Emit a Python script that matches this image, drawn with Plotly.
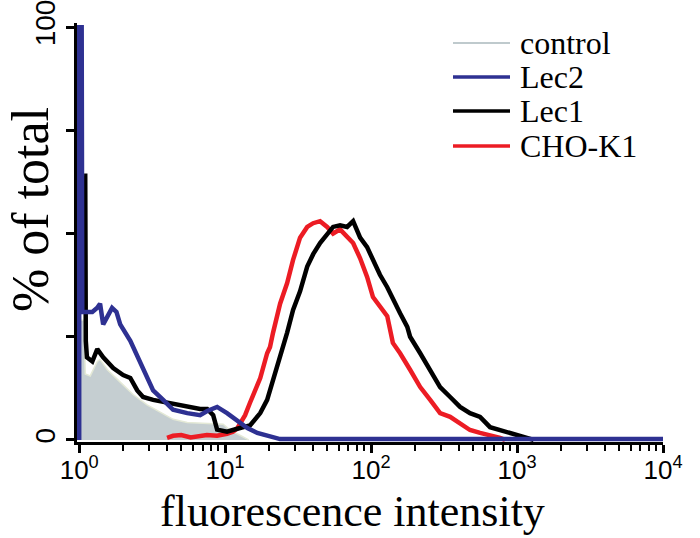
import plotly.graph_objects as go

# ---------------- data (fluorescence intensity, % of total) ----------------
control_x = [1.0, 1.01, 1.08, 1.10, 1.19, 1.33, 1.39, 1.56, 1.91, 2.34, 2.92, 3.59,
             4.40, 5.50, 6.74, 8.0, 9.69, 10.8, 12.1, 13.7, 14.5]
control_y = [0, 29, 29, 16, 15.5, 19, 19.5, 17, 14, 11, 8.5, 6.8,
             5.0, 4.2, 4.0, 4.0, 3.8, 2.4, 1.5, 0.5, 0]

lec2_x = [1.0, 1.0, 1.04, 1.05, 1.13, 1.23, 1.33, 1.39, 1.46, 1.56, 1.68, 1.80,
          1.91, 2.24, 2.62, 2.92, 3.21, 3.76, 4.40, 5.50, 6.74, 7.53, 8.81,
          10.3, 12.1, 14.2, 16.6, 20.3, 23.8, 10000]
lec2_y = [0, 100, 100, 31, 31, 31, 32, 33, 28, 30, 32, 31,
          28, 24, 19, 15, 12, 9.7, 7.3, 6.5, 6.0, 7.0, 8.0,
          6.5, 4.8, 2.9, 1.7, 0.8, 0.2, 0.2]

lec1_x = [1.08, 1.10, 1.11, 1.13, 1.23, 1.33, 1.46, 1.71, 2.0, 2.24, 2.50, 2.74,
          3.21, 4.01, 4.69, 5.76, 6.74, 7.53, 8.28, 8.81, 10.3, 11.3, 12.1, 13.0,
          14.8, 16.0, 17.4, 19.4, 20.3, 21.3, 23.8, 26.6, 29.2, 32.6, 36.5, 40.1,
          44.7, 50.0, 54.9, 61.3, 68.5, 75.3, 80.2, 84.1, 93.9, 103, 115, 129,
          141, 158, 177, 185, 217, 254, 297, 348, 407, 476, 558, 653,
          765, 896, 1050, 1150, 1228, 1300]
lec1_y = [64, 64, 24, 20, 19, 22, 20, 17.4, 15.7, 15, 12, 10.4,
          9.7, 9, 8.5, 8, 7.5, 7.5, 6, 2.5, 2, 2.4, 2.8, 3,
          3.5, 5, 6.5, 9.7, 12, 14.5, 20, 26, 31.5, 36, 42, 45,
          47.7, 50, 51.6, 52, 51.6, 53, 51, 49, 46.7, 43.6, 40, 37,
          34, 30.7, 27.4, 25, 21, 17, 12.8, 10.4, 8, 6.5, 5.6, 3.1,
          2.4, 1.7, 1.2, 0.8, 0.3, 0]

cho_x = [4.0, 4.4, 5.0, 5.8, 7.5, 8.8, 10.3, 11.3, 12.1, 12.7, 13.7, 14.8,
         16.0, 17.4, 19.4, 20.3, 21.3, 23.8, 26.6, 29.2, 32.6, 36.5, 40.1,
         44.7, 50.0, 54.9, 61.3, 68.5, 75.3, 84.1, 93.9, 103, 115, 129, 141,
         158, 185, 217, 254, 297, 348, 407, 476, 558, 653, 765, 828]
cho_y = [0.5, 1.0, 1.2, 0.6, 1.2, 1.0, 1.5, 2.0, 2.8, 4, 6, 9,
         12, 15, 21, 22.5, 26, 33, 38, 43.6, 49, 51.6, 52.5,
         53, 51.6, 50, 51, 49, 47.7, 44, 39.5, 34.6, 32.5, 30, 23.5,
         21, 17, 12.8, 9.7, 6.5, 5.6, 4, 2.4, 1.7, 1.2, 0.5, 0]

legend_names = ["control", "Lec2", "Lec1", "CHO-K1"]
x_title = "fluorescence intensity"
y_title = "% of total"
x_tick_vals = [1, 10, 100, 1000, 10000]
x_tick_text = ["10<sup>0</sup>", "10<sup>1</sup>", "10<sup>2</sup>", "10<sup>3</sup>", "10<sup>4</sup>"]
y_tick_vals = [0, 100]
y_tick_text = ["0", "100"]
y_minor_vals = [25, 50, 75]

# ---------------- styles ----------------
C_CONTROL_FILL = "#c5ced1"
C_CONTROL_LINE = "#bfcacd"
C_LEC2 = "#2e3192"
C_LEC1 = "#000000"
C_CHO = "#ec1c24"
LW = 4.5
SERIF = "Liberation Serif, Times New Roman, serif"
SANS = "Liberation Sans, Arial, sans-serif"

W, H = 700, 538
ML, MR, MT, MB = 77, 37, 23, 96

fig = go.Figure()
fig.add_trace(go.Scatter(x=control_x, y=control_y, mode="lines", fill="tozeroy",
                         fillcolor=C_CONTROL_FILL, line=dict(color="#e4e9d6", width=1.5),
                         showlegend=False, hoverinfo="skip"))
fig.add_trace(go.Scatter(x=cho_x, y=cho_y, mode="lines",
                         line=dict(color=C_CHO, width=LW), showlegend=False))
fig.add_trace(go.Scatter(x=lec1_x, y=lec1_y, mode="lines",
                         line=dict(color=C_LEC1, width=LW), showlegend=False))
fig.add_trace(go.Scatter(x=lec2_x, y=lec2_y, mode="lines",
                         line=dict(color=C_LEC2, width=LW), showlegend=False))

minor_vals = [m * 10 ** d for d in range(4) for m in range(2, 10)]

fig.update_layout(
    width=W, height=H,
    margin=dict(l=ML, r=MR, t=MT, b=MB),
    paper_bgcolor="white", plot_bgcolor="white",
    showlegend=False,
    xaxis=dict(
        type="log", range=[-0.015, 4.0], automargin=False,
        tickvals=x_tick_vals, ticktext=x_tick_text,
        ticks="outside", ticklen=8, tickwidth=2.5, tickcolor="black",
        minor=dict(tickvals=minor_vals, ticks="outside", ticklen=6, tickwidth=2, tickcolor="black"),
        showline=True, linecolor="black", linewidth=3,
        showgrid=False, zeroline=False, ticklabeloverflow="allow",
        ticklabelstandoff=-5,
        tickfont=dict(family=SANS, size=26, color="black"),
    ),
    yaxis=dict(
        range=[-0.5, 101], automargin=False,
        tickvals=y_tick_vals, ticktext=y_tick_text, tickangle=-90,
        ticks="outside", ticklen=8, tickwidth=2.5, tickcolor="black",
        minor=dict(tickvals=y_minor_vals, ticks="outside", ticklen=8, tickwidth=2.5, tickcolor="black"),
        showline=True, linecolor="black", linewidth=3,
        showgrid=False, zeroline=False, ticklabeloverflow="allow",
        tickfont=dict(family=SANS, size=28, color="black"),
    ),
)

# ---------------- titles and legend (layout text + shapes) ----------------
plot_w = W - ML - MR
plot_h = H - MT - MB


def px_x(px):
    return (px - ML) / plot_w


def px_y(py):
    return (H - MB - py) / plot_h


fig.add_annotation(xref="paper", yref="paper", x=px_x(352), y=px_y(511),
                   text=x_title, showarrow=False, xanchor="center", yanchor="middle",
                   font=dict(family=SERIF, size=44, color="black"))
fig.add_annotation(xref="paper", yref="paper", x=px_x(30), y=px_y(210),
                   text=y_title, showarrow=False, xanchor="center", yanchor="middle",
                   textangle=-90, font=dict(family=SERIF, size=52, color="black"))

legend_colors = [C_CONTROL_LINE, C_LEC2, C_LEC1, C_CHO]
legend_widths = [2, 3.5, 3.5, 3.5]
row_y = [43, 77, 111, 146]
for name, col, lw, ry in zip(legend_names, legend_colors, legend_widths, row_y):
    fig.add_shape(type="line", xref="paper", yref="paper",
                  x0=px_x(453), x1=px_x(510), y0=px_y(ry), y1=px_y(ry),
                  line=dict(color=col, width=lw))
    fig.add_annotation(xref="paper", yref="paper", x=px_x(518), y=px_y(ry),
                       text=name, showarrow=False, xanchor="left", yanchor="middle",
                       font=dict(family=SERIF, size=32, color="black"))

fig.write_html("out.html", config={"displayModeBar": False},
               post_script="document.body.style.margin='0px';")
